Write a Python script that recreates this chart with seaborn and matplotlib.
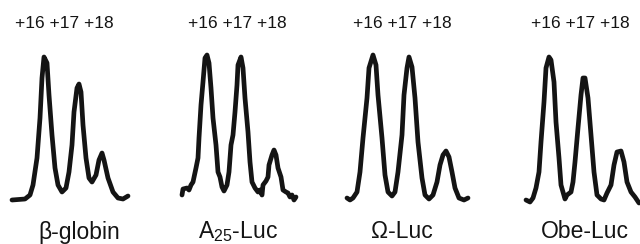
import pandas as pd
import matplotlib.pyplot as plt
import seaborn as sns

# Trace data (position in px from panel left, intensity in arb. units)
constructs = ["β-globin", "A$_{\\mathregular{25}}$-Luc", "Ω-Luc", "Obe-Luc"]
peak_labels = "+16 +17 +18"

bglobin_pos = [12, 25, 30, 33, 37, 40, 42, 44, 47, 49, 52, 55, 58, 62, 66, 69, 72, 74, 77, 79,
               81, 83, 86, 89, 92, 96, 99, 102, 104, 108, 113, 118, 123, 128]
bglobin_sig = [5, 6, 10, 20, 47, 87, 127, 148, 142, 110, 70, 37, 20, 13, 17, 33, 60, 93, 117, 121,
               113, 80, 47, 27, 23, 30, 45, 52, 45, 27, 13, 7, 6, 9]

a25_pos = [22, 23, 27, 29, 31, 33, 36, 38, 39, 41, 43, 45, 47, 49, 51, 53, 56, 58, 60, 62,
           64, 67, 69, 71, 73, 75, 77, 78, 81, 83, 85, 88, 90, 92, 95, 98, 100, 102, 103, 106,
           108, 109, 112, 114, 116, 118, 121, 123, 126, 128, 130, 132, 134, 136]
a25_sig = [10, 16, 17, 15, 20, 23, 37, 47, 67, 100, 123, 147, 150, 142, 117, 87, 60, 33, 28, 18,
           14, 20, 33, 60, 70, 93, 120, 140, 148, 137, 107, 73, 43, 23, 17, 13, 15, 10, 20, 24,
           28, 40, 50, 55, 50, 37, 28, 15, 13, 12, 8, 10, 5, 8]

omega_pos = [27, 30, 33, 37, 40, 43, 47, 49, 53, 56, 58, 62, 65, 68, 72, 75, 78, 82, 84, 87,
             89, 92, 95, 98, 102, 105, 109, 113, 117, 120, 123, 126, 129, 132, 135, 139, 144, 148]
omega_sig = [7, 5, 7, 13, 33, 67, 107, 137, 150, 140, 110, 67, 30, 13, 9, 13, 33, 70, 110, 137,
             148, 138, 107, 63, 27, 10, 6, 10, 23, 40, 50, 54, 48, 33, 17, 7, 5, 7]

obe_pos = [46, 50, 53, 56, 59, 61, 64, 66, 69, 71, 74, 76, 79, 81, 85, 87, 91, 93, 95, 98,
           101, 103, 105, 108, 111, 114, 117, 121, 124, 127, 131, 134, 137, 141, 144, 147, 151, 155, 159]
obe_sig = [5, 3, 7, 17, 33, 63, 103, 137, 148, 145, 123, 83, 47, 20, 6, 10, 13, 23, 43, 77,
           110, 127, 127, 107, 70, 33, 10, 6, 5, 12, 20, 40, 53, 54, 43, 23, 13, 8, 2]

traces = [(bglobin_pos, bglobin_sig), (a25_pos, a25_sig), (omega_pos, omega_sig), (obe_pos, obe_sig)]
top_x = [64, 77, 82, 100]
bottom_x = [79, 78, 82, 105]

sns.set_style("white")
plt.rcParams["font.family"] = ["Liberation Sans", "DejaVu Sans"]
plt.rcParams["mathtext.fontset"] = "custom"
plt.rcParams["mathtext.rm"] = "Liberation Sans"

fig = plt.figure(figsize=(6.4, 2.44), dpi=100)

for i, (pos, sig) in enumerate(traces):
    ax = fig.add_axes([i * 0.25, 0, 0.25, 1])
    df = pd.DataFrame({"pos": pos, "signal": sig})
    sns.lineplot(data=df, x="pos", y="signal", ax=ax, color="#141414",
                 linewidth=3.4, sort=False, estimator=None)
    for line in ax.lines:
        line.set_solid_joinstyle("round")
        line.set_solid_capstyle("round")
    ax.set_xlim(0, 160)
    ax.set_ylim(-39, 205)
    ax.axis("off")
    ax.text(top_x[i], 181, peak_labels, ha="center", va="center", fontsize=12.5, color="#141414")
    ax.text(bottom_x[i], -27, constructs[i], ha="center", va="center", fontsize=16.5, color="#141414")

plt.savefig("out.png", dpi=100)
